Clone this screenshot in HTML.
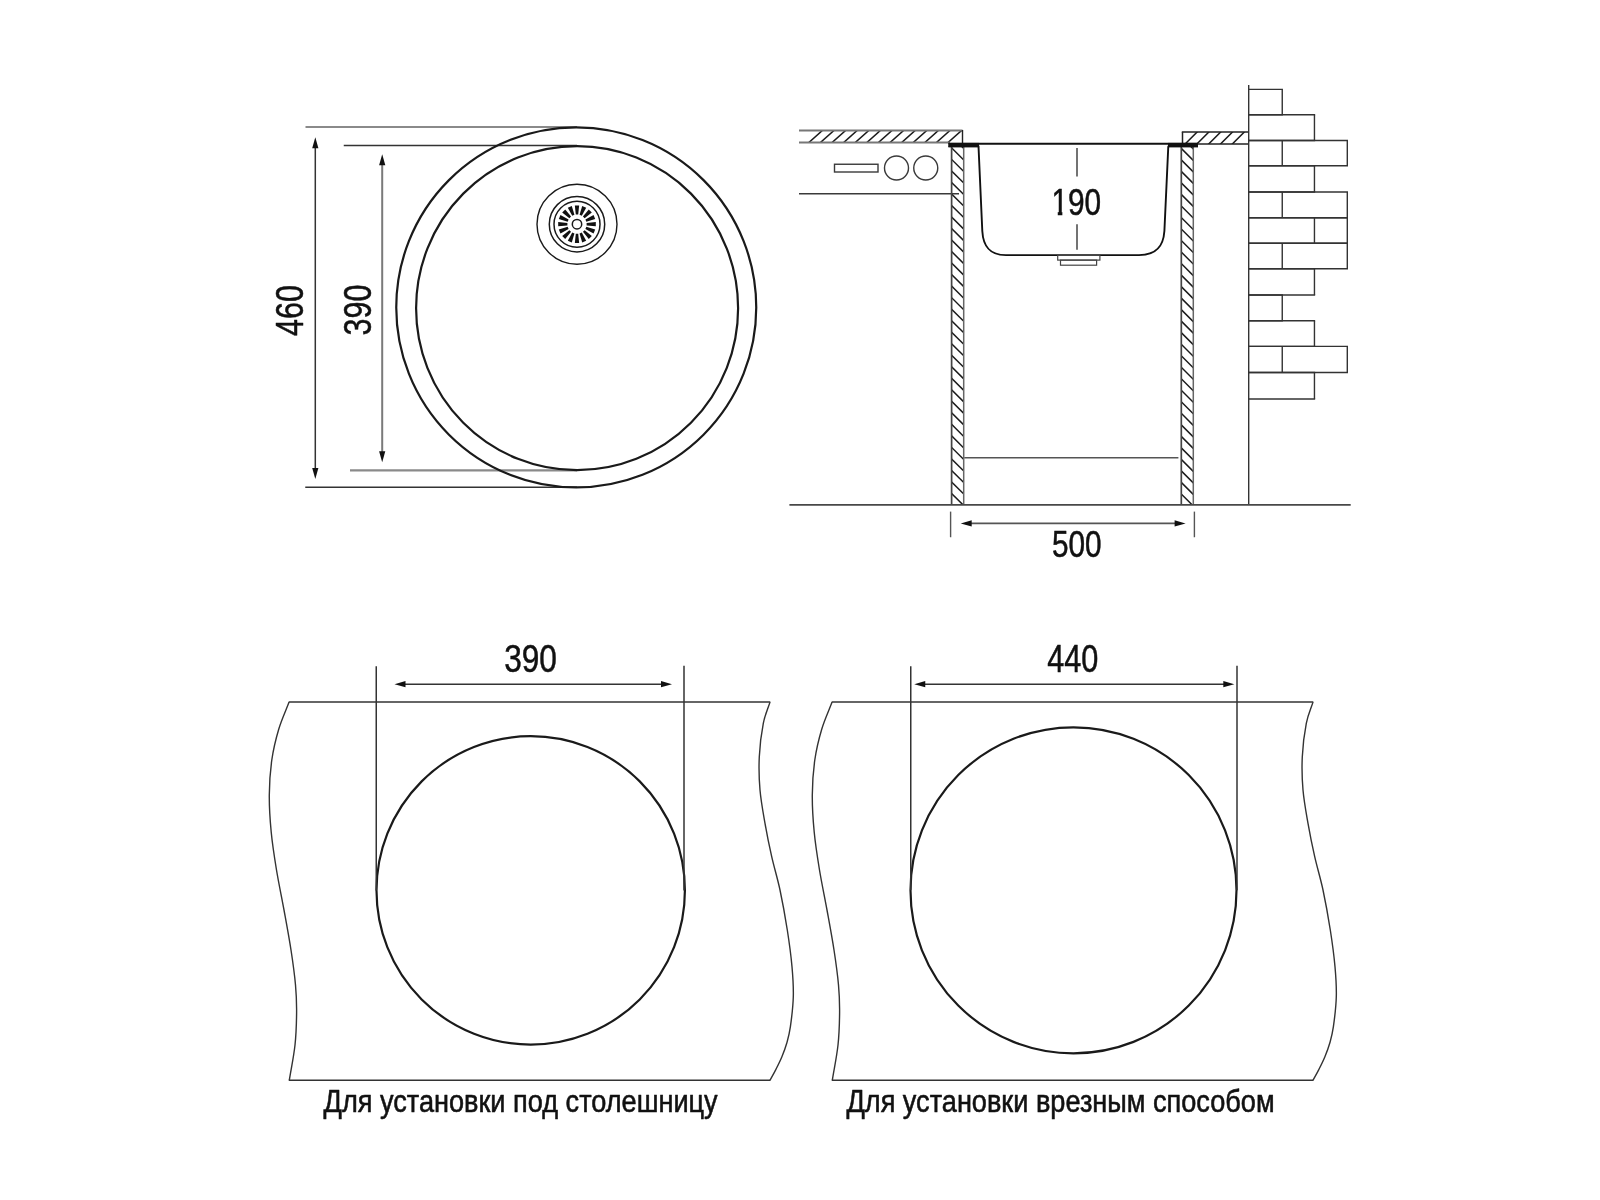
<!DOCTYPE html>
<html lang="ru">
<head>
<meta charset="utf-8">
<title>Схема мойки</title>
<style>
html,body{margin:0;padding:0;background:#fff;}
body{width:1600px;height:1200px;overflow:hidden;font-family:"Liberation Sans",sans-serif;}
svg{display:block;will-change:transform;transform:translateZ(0);}
</style>
</head>
<body>
<svg width="1600" height="1200" viewBox="0 0 1600 1200" font-family="'Liberation Sans', sans-serif">
<defs>
<clipPath id="cpL"><rect x="799" y="131" width="163.5" height="12"/></clipPath>
<clipPath id="cpR"><rect x="1182.5" y="132.1" width="66.3" height="11.8"/></clipPath>
<clipPath id="cpPL"><rect x="951.6" y="147" width="12.1" height="358"/></clipPath>
<clipPath id="cpPR"><rect x="1181.3" y="147" width="12.0" height="358"/></clipPath>
</defs>
<line x1="305.50" y1="127.00" x2="577.00" y2="127.00" stroke="#8a8a8a" stroke-width="2.0" />
<line x1="343.75" y1="145.50" x2="577.00" y2="145.50" stroke="#333" stroke-width="1.5" />
<line x1="350.00" y1="470.30" x2="577.00" y2="470.30" stroke="#8a8a8a" stroke-width="2.2" />
<line x1="305.25" y1="487.20" x2="577.00" y2="487.20" stroke="#333" stroke-width="1.6" />
<circle cx="576.25" cy="307.40" r="180.00" fill="none" stroke="#1a1a1a" stroke-width="2.2"/>
<ellipse cx="577.10" cy="308.20" rx="161.00" ry="162.00" fill="none" stroke="#1a1a1a" stroke-width="2.2"/>
<line x1="315.30" y1="142.20" x2="315.30" y2="474.00" stroke="#333" stroke-width="1.5" />
<polygon points="315.30,137.20 318.40,148.20 312.20,148.20" fill="#111"/>
<polygon points="315.30,479.00 312.20,468.00 318.40,468.00" fill="#111"/>
<line x1="382.20" y1="159.20" x2="382.20" y2="457.20" stroke="#7a7a7a" stroke-width="2.0" />
<polygon points="382.20,154.20 385.30,165.20 379.10,165.20" fill="#111"/>
<polygon points="382.20,462.20 379.10,451.20 385.30,451.20" fill="#111"/>
<text transform="translate(302.70,310.50) rotate(-90) scale(0.795,1)" font-size="38.4" text-anchor="middle" fill="#111" stroke="#111" stroke-width="0.5" stroke-linejoin="round" font-weight="normal">460</text>
<text transform="translate(370.80,310.10) rotate(-90) scale(0.795,1)" font-size="38.4" text-anchor="middle" fill="#111" stroke="#111" stroke-width="0.5" stroke-linejoin="round" font-weight="normal">390</text>
<circle cx="577.00" cy="224.20" r="40.00" fill="none" stroke="#1a1a1a" stroke-width="1.4"/>
<circle cx="577.00" cy="224.20" r="27.70" fill="none" stroke="#1a1a1a" stroke-width="1.5"/>
<circle cx="577.00" cy="224.20" r="23.00" fill="none" stroke="#1a1a1a" stroke-width="1.5"/>
<polygon points="586.60,225.40 595.80,226.35 595.80,222.05 586.60,223.00" fill="#111"/>
<polygon points="585.41,228.98 593.55,233.38 595.19,229.41 586.33,226.77" fill="#111"/>
<polygon points="582.94,231.84 588.77,239.01 591.81,235.97 584.64,230.14" fill="#111"/>
<polygon points="579.57,233.53 582.21,242.39 586.18,240.75 581.78,232.61" fill="#111"/>
<polygon points="575.80,233.80 574.85,243.00 579.15,243.00 578.20,233.80" fill="#111"/>
<polygon points="572.22,232.61 567.82,240.75 571.79,242.39 574.43,233.53" fill="#111"/>
<polygon points="569.36,230.14 562.19,235.97 565.23,239.01 571.06,231.84" fill="#111"/>
<polygon points="567.67,226.77 558.81,229.41 560.45,233.38 568.59,228.98" fill="#111"/>
<polygon points="567.40,223.00 558.20,222.05 558.20,226.35 567.40,225.40" fill="#111"/>
<polygon points="568.59,219.42 560.45,215.02 558.81,218.99 567.67,221.63" fill="#111"/>
<polygon points="571.06,216.56 565.23,209.39 562.19,212.43 569.36,218.26" fill="#111"/>
<polygon points="574.43,214.87 571.79,206.01 567.82,207.65 572.22,215.79" fill="#111"/>
<polygon points="578.20,214.60 579.15,205.40 574.85,205.40 575.80,214.60" fill="#111"/>
<polygon points="581.78,215.79 586.18,207.65 582.21,206.01 579.57,214.87" fill="#111"/>
<polygon points="584.64,218.26 591.81,212.43 588.77,209.39 582.94,216.56" fill="#111"/>
<polygon points="586.33,221.63 595.19,218.99 593.55,215.02 585.41,219.42" fill="#111"/>
<circle cx="577.00" cy="224.20" r="4.70" fill="none" stroke="#1a1a1a" stroke-width="1.5"/>
<g clip-path="url(#cpL)" stroke="#1a1a1a" stroke-width="1.5"><line x1="946.40" y1="144" x2="962.10" y2="130"/><line x1="934.80" y1="144" x2="950.50" y2="130"/><line x1="923.20" y1="144" x2="938.90" y2="130"/><line x1="911.60" y1="144" x2="927.30" y2="130"/><line x1="900.00" y1="144" x2="915.70" y2="130"/><line x1="888.40" y1="144" x2="904.10" y2="130"/><line x1="876.80" y1="144" x2="892.50" y2="130"/><line x1="865.20" y1="144" x2="880.90" y2="130"/><line x1="853.60" y1="144" x2="869.30" y2="130"/><line x1="842.00" y1="144" x2="857.70" y2="130"/><line x1="830.40" y1="144" x2="846.10" y2="130"/><line x1="818.80" y1="144" x2="834.50" y2="130"/><line x1="807.20" y1="144" x2="822.90" y2="130"/></g>
<line x1="799.00" y1="130.60" x2="962.50" y2="130.60" stroke="#777" stroke-width="2.0" />
<line x1="799.00" y1="142.60" x2="950.00" y2="142.60" stroke="#777" stroke-width="2.0" />
<line x1="962.50" y1="130.00" x2="962.50" y2="143.00" stroke="#222" stroke-width="1.4" />
<rect x="834.50" y="164.25" width="43.50" height="7.75" fill="none" stroke="#3a3a3a" stroke-width="1.4"/>
<circle cx="896.50" cy="168.00" r="12.00" fill="none" stroke="#3a3a3a" stroke-width="1.4"/>
<circle cx="925.75" cy="168.00" r="12.00" fill="none" stroke="#3a3a3a" stroke-width="1.4"/>
<line x1="799.00" y1="193.75" x2="959.00" y2="193.75" stroke="#3a3a3a" stroke-width="1.4" />
<g clip-path="url(#cpPL)" stroke="#1a1a1a" stroke-width="1.5"><line x1="950.60" y1="135.38" x2="964.70" y2="149.38"/><line x1="950.60" y1="146.90" x2="964.70" y2="160.90"/><line x1="950.60" y1="158.42" x2="964.70" y2="172.42"/><line x1="950.60" y1="169.94" x2="964.70" y2="183.94"/><line x1="950.60" y1="181.46" x2="964.70" y2="195.46"/><line x1="950.60" y1="192.98" x2="964.70" y2="206.98"/><line x1="950.60" y1="204.50" x2="964.70" y2="218.50"/><line x1="950.60" y1="216.02" x2="964.70" y2="230.02"/><line x1="950.60" y1="227.54" x2="964.70" y2="241.54"/><line x1="950.60" y1="239.06" x2="964.70" y2="253.06"/><line x1="950.60" y1="250.58" x2="964.70" y2="264.58"/><line x1="950.60" y1="262.10" x2="964.70" y2="276.10"/><line x1="950.60" y1="273.62" x2="964.70" y2="287.62"/><line x1="950.60" y1="285.14" x2="964.70" y2="299.14"/><line x1="950.60" y1="296.66" x2="964.70" y2="310.66"/><line x1="950.60" y1="308.18" x2="964.70" y2="322.18"/><line x1="950.60" y1="319.70" x2="964.70" y2="333.70"/><line x1="950.60" y1="331.22" x2="964.70" y2="345.22"/><line x1="950.60" y1="342.74" x2="964.70" y2="356.74"/><line x1="950.60" y1="354.26" x2="964.70" y2="368.26"/><line x1="950.60" y1="365.78" x2="964.70" y2="379.78"/><line x1="950.60" y1="377.30" x2="964.70" y2="391.30"/><line x1="950.60" y1="388.82" x2="964.70" y2="402.82"/><line x1="950.60" y1="400.34" x2="964.70" y2="414.34"/><line x1="950.60" y1="411.86" x2="964.70" y2="425.86"/><line x1="950.60" y1="423.38" x2="964.70" y2="437.38"/><line x1="950.60" y1="434.90" x2="964.70" y2="448.90"/><line x1="950.60" y1="446.42" x2="964.70" y2="460.42"/><line x1="950.60" y1="457.94" x2="964.70" y2="471.94"/><line x1="950.60" y1="469.46" x2="964.70" y2="483.46"/><line x1="950.60" y1="480.98" x2="964.70" y2="494.98"/><line x1="950.60" y1="492.50" x2="964.70" y2="506.50"/><line x1="950.60" y1="504.02" x2="964.70" y2="518.02"/></g>
<line x1="951.60" y1="147.00" x2="951.60" y2="505.00" stroke="#444" stroke-width="1.7" />
<line x1="963.70" y1="147.00" x2="963.70" y2="505.00" stroke="#666" stroke-width="1.5" />
<g clip-path="url(#cpPR)" stroke="#1a1a1a" stroke-width="1.5"><line x1="1180.30" y1="135.88" x2="1194.30" y2="149.88"/><line x1="1180.30" y1="147.40" x2="1194.30" y2="161.40"/><line x1="1180.30" y1="158.92" x2="1194.30" y2="172.92"/><line x1="1180.30" y1="170.44" x2="1194.30" y2="184.44"/><line x1="1180.30" y1="181.96" x2="1194.30" y2="195.96"/><line x1="1180.30" y1="193.48" x2="1194.30" y2="207.48"/><line x1="1180.30" y1="205.00" x2="1194.30" y2="219.00"/><line x1="1180.30" y1="216.52" x2="1194.30" y2="230.52"/><line x1="1180.30" y1="228.04" x2="1194.30" y2="242.04"/><line x1="1180.30" y1="239.56" x2="1194.30" y2="253.56"/><line x1="1180.30" y1="251.08" x2="1194.30" y2="265.08"/><line x1="1180.30" y1="262.60" x2="1194.30" y2="276.60"/><line x1="1180.30" y1="274.12" x2="1194.30" y2="288.12"/><line x1="1180.30" y1="285.64" x2="1194.30" y2="299.64"/><line x1="1180.30" y1="297.16" x2="1194.30" y2="311.16"/><line x1="1180.30" y1="308.68" x2="1194.30" y2="322.68"/><line x1="1180.30" y1="320.20" x2="1194.30" y2="334.20"/><line x1="1180.30" y1="331.72" x2="1194.30" y2="345.72"/><line x1="1180.30" y1="343.24" x2="1194.30" y2="357.24"/><line x1="1180.30" y1="354.76" x2="1194.30" y2="368.76"/><line x1="1180.30" y1="366.28" x2="1194.30" y2="380.28"/><line x1="1180.30" y1="377.80" x2="1194.30" y2="391.80"/><line x1="1180.30" y1="389.32" x2="1194.30" y2="403.32"/><line x1="1180.30" y1="400.84" x2="1194.30" y2="414.84"/><line x1="1180.30" y1="412.36" x2="1194.30" y2="426.36"/><line x1="1180.30" y1="423.88" x2="1194.30" y2="437.88"/><line x1="1180.30" y1="435.40" x2="1194.30" y2="449.40"/><line x1="1180.30" y1="446.92" x2="1194.30" y2="460.92"/><line x1="1180.30" y1="458.44" x2="1194.30" y2="472.44"/><line x1="1180.30" y1="469.96" x2="1194.30" y2="483.96"/><line x1="1180.30" y1="481.48" x2="1194.30" y2="495.48"/><line x1="1180.30" y1="493.00" x2="1194.30" y2="507.00"/><line x1="1180.30" y1="504.52" x2="1194.30" y2="518.52"/></g>
<line x1="1181.30" y1="147.00" x2="1181.30" y2="505.00" stroke="#444" stroke-width="1.7" />
<line x1="1193.30" y1="147.00" x2="1193.30" y2="505.00" stroke="#666" stroke-width="1.5" />
<g clip-path="url(#cpR)" stroke="#1a1a1a" stroke-width="1.5"><line x1="1184.20" y1="144.9" x2="1198.00" y2="131.1"/><line x1="1196.00" y1="144.9" x2="1209.80" y2="131.1"/><line x1="1207.80" y1="144.9" x2="1221.60" y2="131.1"/><line x1="1219.60" y1="144.9" x2="1233.40" y2="131.1"/><line x1="1231.40" y1="144.9" x2="1245.20" y2="131.1"/></g>
<line x1="1181.80" y1="132.10" x2="1249.00" y2="132.10" stroke="#222" stroke-width="1.5" />
<line x1="1197.00" y1="143.90" x2="1249.00" y2="143.90" stroke="#222" stroke-width="1.5" />
<line x1="1182.50" y1="132.10" x2="1182.50" y2="144.00" stroke="#222" stroke-width="1.5" />
<line x1="948.40" y1="143.80" x2="1197.80" y2="143.80" stroke="#111" stroke-width="2.0" />
<line x1="948.40" y1="146.30" x2="979.20" y2="146.30" stroke="#111" stroke-width="1.9" />
<line x1="1167.80" y1="146.30" x2="1198.00" y2="146.30" stroke="#111" stroke-width="1.9" />
<rect x="948.40" y="142.90" width="30.60" height="4.30" fill="#111" stroke="none" stroke-width="0"/>
<rect x="1168.00" y="142.90" width="30.00" height="4.30" fill="#111" stroke="none" stroke-width="0"/>
<path d="M978.5,146.3 L982.3,231 C983.2,247 990,255.1 1006,255.1 L1139,255.1 C1156,255.1 1163.3,247 1164.4,231 L1168.3,146.3" fill="none" stroke="#111" stroke-width="1.9" stroke-linejoin="round"/>
<rect x="1057.70" y="255.40" width="42.20" height="4.70" fill="none" stroke="#444" stroke-width="1.2"/>
<rect x="1060.50" y="260.10" width="36.10" height="5.10" fill="none" stroke="#444" stroke-width="1.2"/>
<line x1="1077.00" y1="148.00" x2="1077.00" y2="176.40" stroke="#444" stroke-width="1.5" />
<line x1="1077.00" y1="224.30" x2="1077.00" y2="249.80" stroke="#444" stroke-width="1.5" />
<text transform="translate(1076.25,214.50) scale(0.815,1)" font-size="36.5" text-anchor="middle" fill="#111" stroke="#111" stroke-width="0.5" stroke-linejoin="round" font-weight="normal">190</text>
<rect x="1051.50" y="211.00" width="6.25" height="5.50" fill="#fff" stroke="none" stroke-width="0"/>
<rect x="1062.35" y="211.00" width="5.65" height="5.50" fill="#fff" stroke="none" stroke-width="0"/>
<line x1="1248.70" y1="84.90" x2="1248.70" y2="505.00" stroke="#333" stroke-width="1.4" />
<line x1="1248.70" y1="89.40" x2="1282.95" y2="89.40" stroke="#333" stroke-width="1.4" />
<line x1="1248.70" y1="114.70" x2="1282.95" y2="114.70" stroke="#333" stroke-width="1.4" />
<line x1="1282.25" y1="89.40" x2="1282.25" y2="114.70" stroke="#333" stroke-width="1.4" />
<line x1="1248.70" y1="114.70" x2="1315.15" y2="114.70" stroke="#333" stroke-width="1.4" />
<line x1="1248.70" y1="140.50" x2="1315.15" y2="140.50" stroke="#333" stroke-width="1.4" />
<line x1="1314.45" y1="114.70" x2="1314.45" y2="140.50" stroke="#333" stroke-width="1.4" />
<line x1="1248.70" y1="140.50" x2="1348.00" y2="140.50" stroke="#333" stroke-width="1.4" />
<line x1="1248.70" y1="165.70" x2="1348.00" y2="165.70" stroke="#333" stroke-width="1.4" />
<line x1="1347.30" y1="140.50" x2="1347.30" y2="165.70" stroke="#333" stroke-width="1.4" />
<line x1="1282.25" y1="140.50" x2="1282.25" y2="165.70" stroke="#333" stroke-width="1.4" />
<line x1="1248.70" y1="165.70" x2="1315.15" y2="165.70" stroke="#333" stroke-width="1.4" />
<line x1="1248.70" y1="192.00" x2="1315.15" y2="192.00" stroke="#333" stroke-width="1.4" />
<line x1="1314.45" y1="165.70" x2="1314.45" y2="192.00" stroke="#333" stroke-width="1.4" />
<line x1="1248.70" y1="192.00" x2="1348.00" y2="192.00" stroke="#333" stroke-width="1.4" />
<line x1="1248.70" y1="217.70" x2="1348.00" y2="217.70" stroke="#333" stroke-width="1.4" />
<line x1="1347.30" y1="192.00" x2="1347.30" y2="217.70" stroke="#333" stroke-width="1.4" />
<line x1="1282.25" y1="192.00" x2="1282.25" y2="217.70" stroke="#333" stroke-width="1.4" />
<line x1="1248.70" y1="217.70" x2="1348.00" y2="217.70" stroke="#333" stroke-width="1.4" />
<line x1="1248.70" y1="243.30" x2="1348.00" y2="243.30" stroke="#333" stroke-width="1.4" />
<line x1="1347.30" y1="217.70" x2="1347.30" y2="243.30" stroke="#333" stroke-width="1.4" />
<line x1="1314.45" y1="217.70" x2="1314.45" y2="243.30" stroke="#333" stroke-width="1.4" />
<line x1="1248.70" y1="243.30" x2="1348.00" y2="243.30" stroke="#333" stroke-width="1.4" />
<line x1="1248.70" y1="268.80" x2="1348.00" y2="268.80" stroke="#333" stroke-width="1.4" />
<line x1="1347.30" y1="243.30" x2="1347.30" y2="268.80" stroke="#333" stroke-width="1.4" />
<line x1="1282.25" y1="243.30" x2="1282.25" y2="268.80" stroke="#333" stroke-width="1.4" />
<line x1="1248.70" y1="268.80" x2="1315.15" y2="268.80" stroke="#333" stroke-width="1.4" />
<line x1="1248.70" y1="295.00" x2="1315.15" y2="295.00" stroke="#333" stroke-width="1.4" />
<line x1="1314.45" y1="268.80" x2="1314.45" y2="295.00" stroke="#333" stroke-width="1.4" />
<line x1="1248.70" y1="295.00" x2="1282.95" y2="295.00" stroke="#333" stroke-width="1.4" />
<line x1="1248.70" y1="320.80" x2="1282.95" y2="320.80" stroke="#333" stroke-width="1.4" />
<line x1="1282.25" y1="295.00" x2="1282.25" y2="320.80" stroke="#333" stroke-width="1.4" />
<line x1="1248.70" y1="320.80" x2="1315.15" y2="320.80" stroke="#333" stroke-width="1.4" />
<line x1="1248.70" y1="346.40" x2="1315.15" y2="346.40" stroke="#333" stroke-width="1.4" />
<line x1="1314.45" y1="320.80" x2="1314.45" y2="346.40" stroke="#333" stroke-width="1.4" />
<line x1="1248.70" y1="346.40" x2="1348.00" y2="346.40" stroke="#333" stroke-width="1.4" />
<line x1="1248.70" y1="372.50" x2="1348.00" y2="372.50" stroke="#333" stroke-width="1.4" />
<line x1="1347.30" y1="346.40" x2="1347.30" y2="372.50" stroke="#333" stroke-width="1.4" />
<line x1="1282.25" y1="346.40" x2="1282.25" y2="372.50" stroke="#333" stroke-width="1.4" />
<line x1="1248.70" y1="372.50" x2="1315.15" y2="372.50" stroke="#333" stroke-width="1.4" />
<line x1="1248.70" y1="399.00" x2="1315.15" y2="399.00" stroke="#333" stroke-width="1.4" />
<line x1="1314.45" y1="372.50" x2="1314.45" y2="399.00" stroke="#333" stroke-width="1.4" />
<line x1="789.40" y1="504.90" x2="1350.70" y2="504.90" stroke="#484848" stroke-width="1.6" />
<line x1="964.30" y1="457.70" x2="1178.40" y2="457.70" stroke="#555" stroke-width="1.5" />
<line x1="950.60" y1="511.60" x2="950.60" y2="537.25" stroke="#555" stroke-width="1.4" />
<line x1="1194.40" y1="511.60" x2="1194.40" y2="537.25" stroke="#555" stroke-width="1.4" />
<line x1="965.70" y1="523.40" x2="1180.60" y2="523.40" stroke="#555" stroke-width="1.7" />
<polygon points="960.70,523.40 971.70,520.30 971.70,526.50" fill="#111"/>
<polygon points="1185.60,523.40 1174.60,526.50 1174.60,520.30" fill="#111"/>
<text transform="translate(1076.70,556.60) scale(0.815,1)" font-size="36.5" text-anchor="middle" fill="#111" stroke="#111" stroke-width="0.5" stroke-linejoin="round" font-weight="normal">500</text>
<line x1="288.80" y1="702.10" x2="770.30" y2="702.10" stroke="#333" stroke-width="1.5" />
<line x1="288.80" y1="1080.30" x2="770.30" y2="1080.30" stroke="#333" stroke-width="1.5" />
<path d="M289.10,702.10 C285.67,711.07 281.68,719.35 278.80,729.00 C275.92,738.65 273.38,749.00 271.80,760.00 C270.22,771.00 269.40,783.00 269.30,795.00 C269.20,807.00 270.00,819.50 271.20,832.00 C272.40,844.50 274.37,857.00 276.50,870.00 C278.63,883.00 281.58,896.67 284.00,910.00 C286.42,923.33 289.08,937.50 291.00,950.00 C292.92,962.50 294.57,974.67 295.50,985.00 C296.43,995.33 296.68,1002.00 296.60,1012.00 C296.52,1022.00 296.22,1033.62 295.00,1045.00 C293.78,1056.38 291.20,1068.53 289.30,1080.30" fill="none" stroke="#333" stroke-width="1.4"/>
<path d="M770.00,702.10 C767.77,709.17 765.08,714.20 763.30,723.30 C761.52,732.40 759.85,745.58 759.30,756.70 C758.75,767.82 759.05,778.90 760.00,790.00 C760.95,801.10 763.05,812.18 765.00,823.30 C766.95,834.42 769.20,845.58 771.70,856.70 C774.20,867.82 777.40,877.78 780.00,890.00 C782.60,902.22 785.30,917.22 787.30,930.00 C789.30,942.78 791.00,955.58 792.00,966.70 C793.00,977.82 793.57,986.70 793.30,996.70 C793.03,1006.70 791.48,1018.98 790.40,1026.70 C789.32,1034.42 788.23,1037.95 786.80,1043.00 C785.37,1048.05 783.63,1052.57 781.80,1057.00 C779.97,1061.43 777.77,1065.72 775.80,1069.60 C773.83,1073.48 771.93,1076.73 770.00,1080.30" fill="none" stroke="#333" stroke-width="1.4"/>
<circle cx="530.70" cy="890.40" r="154.20" fill="none" stroke="#1a1a1a" stroke-width="2.2"/>
<line x1="376.25" y1="666.20" x2="376.25" y2="890.40" stroke="#333" stroke-width="1.5" />
<line x1="684.00" y1="665.70" x2="684.00" y2="890.40" stroke="#333" stroke-width="1.5" />
<line x1="399.50" y1="684.15" x2="667.00" y2="684.15" stroke="#333" stroke-width="1.5" />
<polygon points="394.50,684.15 405.50,681.05 405.50,687.25" fill="#111"/>
<polygon points="672.00,684.15 661.00,687.25 661.00,681.05" fill="#111"/>
<text transform="translate(530.50,671.60) scale(0.815,1)" font-size="38.8" text-anchor="middle" fill="#111" stroke="#111" stroke-width="0.5" stroke-linejoin="round" font-weight="normal">390</text>
<text transform="translate(520.60,1112.30) scale(0.848,1)" font-size="32" text-anchor="middle" fill="#111" stroke="#111" stroke-width="0.6" stroke-linejoin="round" font-weight="normal">Для установки под столешницу</text>
<line x1="831.80" y1="702.10" x2="1313.30" y2="702.10" stroke="#333" stroke-width="1.5" />
<line x1="831.80" y1="1080.30" x2="1313.30" y2="1080.30" stroke="#333" stroke-width="1.5" />
<path d="M832.10,702.10 C828.67,711.07 824.68,719.35 821.80,729.00 C818.92,738.65 816.38,749.00 814.80,760.00 C813.22,771.00 812.40,783.00 812.30,795.00 C812.20,807.00 813.00,819.50 814.20,832.00 C815.40,844.50 817.37,857.00 819.50,870.00 C821.63,883.00 824.58,896.67 827.00,910.00 C829.42,923.33 832.08,937.50 834.00,950.00 C835.92,962.50 837.57,974.67 838.50,985.00 C839.43,995.33 839.68,1002.00 839.60,1012.00 C839.52,1022.00 839.22,1033.62 838.00,1045.00 C836.78,1056.38 834.20,1068.53 832.30,1080.30" fill="none" stroke="#333" stroke-width="1.4"/>
<path d="M1313.00,702.10 C1310.77,709.17 1308.08,714.20 1306.30,723.30 C1304.52,732.40 1302.85,745.58 1302.30,756.70 C1301.75,767.82 1302.05,778.90 1303.00,790.00 C1303.95,801.10 1306.05,812.18 1308.00,823.30 C1309.95,834.42 1312.20,845.58 1314.70,856.70 C1317.20,867.82 1320.40,877.78 1323.00,890.00 C1325.60,902.22 1328.30,917.22 1330.30,930.00 C1332.30,942.78 1334.00,955.58 1335.00,966.70 C1336.00,977.82 1336.57,986.70 1336.30,996.70 C1336.03,1006.70 1334.48,1018.98 1333.40,1026.70 C1332.32,1034.42 1331.23,1037.95 1329.80,1043.00 C1328.37,1048.05 1326.63,1052.57 1324.80,1057.00 C1322.97,1061.43 1320.77,1065.72 1318.80,1069.60 C1316.83,1073.48 1314.93,1076.73 1313.00,1080.30" fill="none" stroke="#333" stroke-width="1.4"/>
<circle cx="1073.50" cy="890.30" r="163.00" fill="none" stroke="#1a1a1a" stroke-width="2.2"/>
<line x1="910.75" y1="666.20" x2="910.75" y2="890.30" stroke="#333" stroke-width="1.5" />
<line x1="1237.00" y1="665.70" x2="1237.00" y2="890.30" stroke="#333" stroke-width="1.5" />
<line x1="919.25" y1="684.15" x2="1229.30" y2="684.15" stroke="#333" stroke-width="1.5" />
<polygon points="914.25,684.15 925.25,681.05 925.25,687.25" fill="#111"/>
<polygon points="1234.30,684.15 1223.30,687.25 1223.30,681.05" fill="#111"/>
<text transform="translate(1072.75,671.60) scale(0.79,1)" font-size="38.8" text-anchor="middle" fill="#111" stroke="#111" stroke-width="0.5" stroke-linejoin="round" font-weight="normal">440</text>
<text transform="translate(1060.50,1112.30) scale(0.848,1)" font-size="32" text-anchor="middle" fill="#111" stroke="#111" stroke-width="0.6" stroke-linejoin="round" font-weight="normal">Для установки врезным способом</text>
</svg>
</body>
</html>
